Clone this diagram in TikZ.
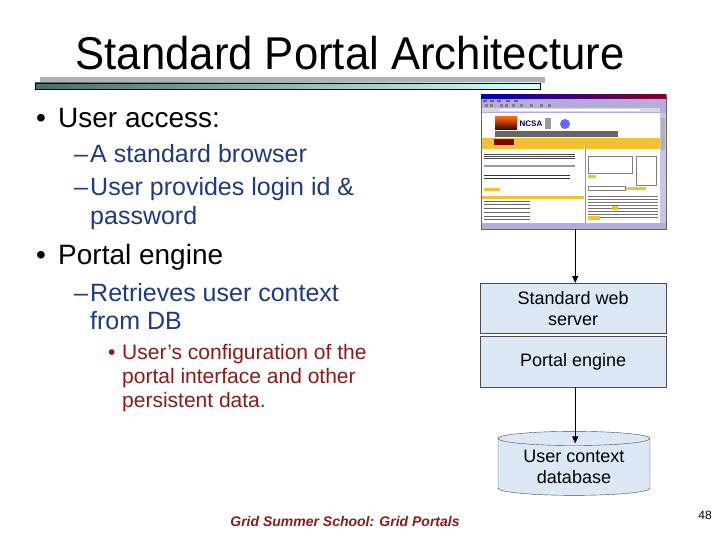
\documentclass[tikz,border=0pt]{standalone}
\usepackage{fontspec}
\setmainfont{Liberation Sans}
\usetikzlibrary{arrows.meta,shapes.geometric}
\definecolor{navy}{HTML}{1F3A80}
\definecolor{dred}{HTML}{8B1A1A}
\definecolor{boxblue}{HTML}{DDE8F6}
\definecolor{lav}{HTML}{B4ACDC}
\definecolor{ylw}{HTML}{F2C230}
\tikzset{
  lvlone/.style={anchor=base west,font=\fontsize{28}{30}\selectfont,text=black,inner sep=0pt},
  lvltwo/.style={anchor=base west,font=\fontsize{25}{26}\selectfont,text=navy,inner sep=0pt},
  lvlthree/.style={anchor=base west,font=\fontsize{21}{22}\selectfont,text=dred,inner sep=0pt},
  layerbox/.style={draw=black!70,fill=boxblue,minimum width=186pt,inner sep=0pt,align=center,font=\fontsize{18}{21}\selectfont},
  conn/.style={draw=black,line width=1pt,-{Triangle[length=7pt,width=6pt]}}
}
\begin{document}
\begin{tikzpicture}[x=1pt,y=-1pt]
\useasboundingbox (0,0) rectangle (720,540);
\fill[white] (0,0) rectangle (720,540);
% title
\node[anchor=base,inner sep=0pt,xscale=0.95,font=\fontsize{46}{50}\selectfont] (title) at (350,70) {Standard Portal Architecture};
\fill[black!30] (40,77) rectangle (545,83);
\shade[left color=black!70!cyan!40!gray, right color=cyan!15!white,draw=black] (35,83) rectangle (540,89);
% bullets
\node[lvlone] (b1) at (36,128) {•};
\node[lvlone] (t1) at (58,128) {User access:};
\node[lvltwo] (d1) at (74,163) {–};
\node[lvltwo] (t2) at (90,163) {A standard browser};
\node[lvltwo] (d2) at (74,196) {–};
\node[lvltwo] (t3) at (90,196) {User provides login id \&};
\node[lvltwo] (t4) at (90,225) {password};
\node[lvlone] (b2) at (36,264) {•};
\node[lvlone] (t5) at (58,264) {Portal engine};
\node[lvltwo] (d3) at (74,301) {–};
\node[lvltwo] (t6) at (90,301) {Retrieves user context};
\node[lvltwo] (t7) at (90,329) {from DB};
\node[lvlthree] (b3) at (108,359) {•};
\node[lvlthree] (t8) at (122,359) {User’s configuration of the};
\node[lvlthree] (t9) at (122,383) {portal interface and other};
\node[lvlthree] (t10) at (122,407) {persistent data.};
% screenshot
\node[draw=black!60,fill=lav,minimum width=185pt,minimum height=134pt,inner sep=0pt,anchor=north west] (shot) at (481,95) {};
\shade[left color=blue!70!black,right color=purple!70!black] (481,95) rectangle (666,99);
\fill[white] (482,113) rectangle (660,223);
\fill[black!15] (482,108) rectangle (660,112);
\fill[white] (500,109) rectangle (640,111.5);
\foreach \x in {485,490,500,505,512,520,530,540,548}{\fill[black!50] (\x,104) rectangle ++(3,3);}
\foreach \x in {483,490,497,506,514}{\fill[black!60] (\x,100.5) rectangle ++(4,1.5);}
\shade[top color=orange!80!red,bottom color=black!80!red] (495,117) rectangle (517,130);
\node[inner sep=0pt,font=\bfseries\fontsize{8}{8}\selectfont,text=blue!40!black] (ncsa) at (531,124) {NCSA};
\fill[black!40] (545,118) rectangle (551,129);
\fill[blue!60] (565,124) circle (5pt);
\fill[black!60] (495,131) rectangle (618,137);
\fill[ylw] (482,138) rectangle (660,146);
\fill[red!50!black] (494,139) rectangle (514,145);
\fill[ylw] (482,146) rectangle (584,149);
\fill[ylw] (586,146) rectangle (660,149);
\draw[black!40] (585,146) -- (585,223);
\foreach \y in {154,156,158}{\fill[black!70] (484,\y) rectangle (575,\y+1);}
\fill[black!40] (484,165) rectangle (575,167);
\foreach \y in {175,178}{\fill[black!80] (484,\y) rectangle (570,\y+1.2);}
\fill[ylw] (484,188) rectangle (500,191);
\fill[ylw] (482,196) rectangle (584,199);
\foreach \y in {201,204,208,212,216,219}{\fill[black!60] (484,\y) rectangle (530,\y+1);}
\draw[black!50] (588,156) rectangle (632,173);
\draw[black!50] (636,156) rectangle (656,185);
\fill[ylw] (588,175) rectangle (596,178);
\draw[black!50] (588,186) rectangle (625,190);
\fill[ylw] (626,187) rectangle (646,190);
\foreach \y in {196,199,202,205,208,211,214,217}{\fill[black!55] (588,\y) rectangle (658,\y+1);}
\fill[ylw] (612,206) rectangle (618,210);
\fill[ylw] (588,216) rectangle (600,220);
\fill[lav!70] (660,113) rectangle (666,223);
\fill[black!30] (661,118) rectangle (665,150);
% layers
\node[layerbox,minimum height=50pt,anchor=north west] (web) at (480,283) {Standard web\\server};
\node[layerbox,minimum height=51pt,anchor=north west] (eng) at (480,336) {Portal engine};
% database
\node[cylinder,shape border rotate=90,aspect=0.14,draw=black!70,fill=boxblue,minimum width=152pt,minimum height=64pt,inner sep=0pt,align=center,font=\fontsize{18}{21}\selectfont] (db) at (574,467) {User context\\database};
% connectors
\draw[conn] (shot.south -| web.north) ++(2,0) coordinate (s1) -- (s1 |- web.north);
\coordinate (dbtop) at ([yshift=-5pt]db.before top);
\draw[conn] (eng.south) ++(2,0) coordinate (s2) -- (s2 |- dbtop);
% footer
\node[anchor=base,inner sep=0pt,font=\bfseries\itshape\fontsize{14}{16}\selectfont,text=dred] (foot) at (345,526) {Grid Summer School: Grid Portals};
\node[anchor=base east,inner sep=0pt,font=\fontsize{12}{14}\selectfont] (pg) at (712,519) {48};
\end{tikzpicture}
\end{document}
